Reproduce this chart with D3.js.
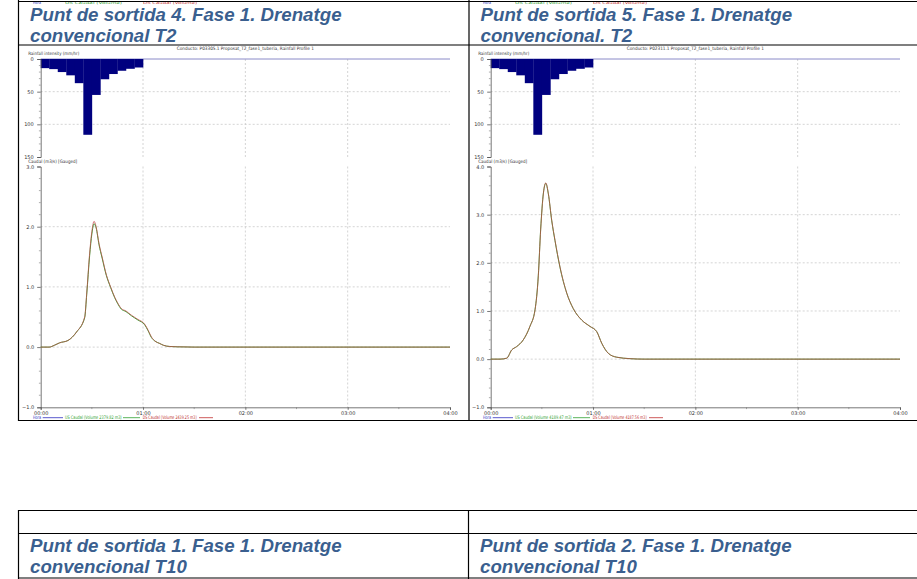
<!DOCTYPE html>
<html><head><meta charset="utf-8">
<script src="https://cdn.jsdelivr.net/npm/d3@7"></script>
<style>body{margin:0;background:#fff}svg{display:block}</style>
</head><body>
<svg id="c" width="917" height="579"></svg>
<script>
// ---- data ----
const rainMinutes = [0,5,10,15,20,25,30,35,40,45,50,55];
const rainIntensity = [14,15.5,20,25,37,116,55,31,23,18,15,13];
const rainTicks = [0,50,100,150];
const timeTicks = [0,60,120,180,240];
const timeTickLabels = ["00:00","01:00","02:00","03:00","04:00"];

const leftTimes = [0,5,8,11,16,21,25.8,27,28.7,30,31.3,32.5,34.2,36,38.5,41,43.4,45,47.3,50,53.2,57,61,63,64.9,67,69.8,72,75.7,80,90,240];
const leftDS    = [0,0,0.03,0.07,0.11,0.25,0.5,0.9,1.56,1.92,2.09,2.0,1.72,1.5,1.2,1.0,0.83,0.74,0.64,0.6,0.53,0.46,0.38,0.28,0.17,0.1,0.06,0.03,0.01,0.005,0,0];
const leftUS    = [0,0,0.03,0.07,0.11,0.25,0.49,0.88,1.52,1.88,2.05,1.98,1.70,1.48,1.19,0.99,0.82,0.73,0.63,0.59,0.52,0.45,0.37,0.27,0.16,0.1,0.06,0.03,0.01,0.005,0,0];
const leftFlowTicks = [-1,0,1,2,3];

const rightTimes = [0,5.5,9.4,12.3,15.2,19.1,23,26,27.9,29.3,30.9,32.3,33.8,35.8,37.7,40.6,44.6,48.4,53.4,58.2,62.2,65.1,69,73.9,81.7,90,240];
const rightDS    = [0,0,0.02,0.19,0.26,0.4,0.68,1.02,1.71,2.68,3.44,3.66,3.44,2.88,2.47,1.92,1.37,1.05,0.81,0.68,0.57,0.33,0.12,0.04,0.01,0,0];
const rightUS    = [0,0,0.02,0.19,0.26,0.4,0.68,1.03,1.73,2.70,3.45,3.65,3.43,2.87,2.46,1.91,1.37,1.05,0.81,0.68,0.57,0.33,0.12,0.04,0.01,0,0];
const rightFlowTicks = [-1,0,1,2,3,4];

const charts = [
  {title:["Punt de sortida 4. Fase 1. Drenatge","convencional T2"],
   conducto:"Conducto:  P03305.1 Proposat_T2_fase1_tuberia, Rainfall Profile 1",
   times:leftTimes, us:leftUS, ds:leftDS, ticks:leftFlowTicks,
   usLabel:"US Caudal (Volume 2379.82 m3)", dsLabel:"DS Caudal (Volume 2439.25 m3)", x0:40.7},
  {title:["Punt de sortida 5. Fase 1. Drenatge","convencional. T2"],
   conducto:"Conducto:  P02311.1 Proposat_T2_fase1_tuberia, Rainfall Profile 1",
   times:rightTimes, us:rightUS, ds:rightDS, ticks:rightFlowTicks,
   usLabel:"US Caudal (Volume 4189.47 m3)", dsLabel:"DS Caudal (Volume 4187.56 m3)", x0:490.7}
];
const lowerTitles = [["Punt de sortida 1. Fase 1. Drenatge","convencional T10"],["Punt de sortida 2. Fase 1. Drenatge","convencional T10"]];

// ---- drawing ----
const svg = d3.select("#c");
svg.append("rect").attr("width",917).attr("height",579).attr("fill","#fff");
const titleColor = "#3a5f8f";
const tiny = "'DejaVu Sans', sans-serif";
const titleSize = 18.7;

function fitText(g, x, y, txt, w, size, color, anchor){
  return g.append("text").attr("x",x).attr("y",y).text(txt)
    .attr("font-family",tiny).attr("font-size",size).attr("fill",color||"#222")
    .attr("text-anchor",anchor||"start")
    .attr("textLength",w).attr("lengthAdjust","spacingAndGlyphs");
}

// top remnants of previous page's legend
[18,468].forEach(ox=>{
  fitText(svg, ox+15, 3.6, "Hora", 8, 3.4, "#3030c0");
  fitText(svg, ox+47, 3.6, "US Caudal (Volume)", 57, 3.4, "#30a030");
  fitText(svg, ox+125, 3.6, "DS Caudal (Volume)", 54, 3.4, "#c03030");
});

charts.forEach((c,i)=>{
  const cellX = i===0 ? 18.5 : 469;
  c.title.forEach((t,k)=>{
    svg.append("text").attr("x",cellX+11.5).attr("y",20.5+k*21).text(t)
      .attr("font-family","'Liberation Sans', Arial, sans-serif").attr("font-weight","bold")
      .attr("font-style","italic").attr("font-size",titleSize).attr("fill",titleColor);
  });
  const g = svg.append("g");
  const x = d3.scaleLinear().domain([0,240]).range([c.x0, c.x0+409.3]);
  const yR = d3.scaleLinear().domain([0,150]).range([59,157]);
  const fmin = d3.min(c.ticks), fmax = d3.max(c.ticks);
  const yF = d3.scaleLinear().domain([fmin,fmax]).range([407.3,166.5]);

  fitText(g, (x(0)+x(240))/2, 50, c.conducto, 137, 4.6, "#333", "middle");
  fitText(g, x(0)-12.5, 55, "Rainfall intensity (mm/hr)", 51, 4.6, "#333");
  fitText(g, x(0)-12.5, 163, "Caudal (m3/s) [Gauged]", 49, 4.6, "#333");

  const grid = "#c9c9c9";
  [60,120,180].forEach(t=>{
    g.append("line").attr("x1",x(t)).attr("x2",x(t)).attr("y1",yR(0)).attr("y2",yR(150))
      .attr("stroke",grid).attr("stroke-width",0.8).attr("stroke-dasharray","2,2");
    g.append("line").attr("x1",x(t)).attr("x2",x(t)).attr("y1",yF(fmax)).attr("y2",yF(fmin))
      .attr("stroke",grid).attr("stroke-width",0.8).attr("stroke-dasharray","2,2");
  });
  [50,100].forEach(v=>g.append("line").attr("x1",x(0)).attr("x2",x(240)).attr("y1",yR(v)).attr("y2",yR(v))
      .attr("stroke",grid).attr("stroke-width",0.8).attr("stroke-dasharray","2,2"));
  c.ticks.filter(v=>v>fmin && v<fmax).forEach(v=>g.append("line").attr("x1",x(0)).attr("x2",x(240)).attr("y1",yF(v)).attr("y2",yF(v))
      .attr("stroke",grid).attr("stroke-width",0.8).attr("stroke-dasharray","2,2"));

  g.append("line").attr("x1",x(0)).attr("x2",x(240)).attr("y1",yR(0)).attr("y2",yR(0))
    .attr("stroke","#8a8ac8").attr("stroke-width",1);
  g.selectAll("rect.rain").data(rainMinutes).enter().append("rect")
    .attr("x",(d)=>x(d)).attr("width",(d)=>x(d+5)-x(d)+0.3)
    .attr("y",yR(0)).attr("height",(d,j)=>yR(rainIntensity[j])-yR(0))
    .attr("fill","#00007f");

  const ax = g.append("g").attr("font-family",tiny);
  const yAxisR = d3.axisLeft(yR).tickValues(rainTicks).tickSize(3.5).tickFormat(d3.format("d"));
  const aR = ax.append("g").attr("transform",`translate(${x(0)},0)`).call(yAxisR);
  const yAxisF = d3.axisLeft(yF).tickValues(c.ticks).tickSize(3.5).tickFormat(d3.format(".1f"));
  const aF = ax.append("g").attr("transform",`translate(${x(0)},0)`).call(yAxisF);
  const xAxis = d3.axisBottom(x).tickValues(timeTicks).tickSize(2.5).tickFormat((d,j)=>timeTickLabels[j]);
  const aX = ax.append("g").attr("transform",`translate(0,${yF(fmin)})`).call(xAxis);
  [aR,aF,aX].forEach(a=>{
    a.selectAll("path").attr("stroke","#555").attr("stroke-width",0.8);
    a.selectAll("line").attr("stroke","#555").attr("stroke-width",0.8);
    a.selectAll("text").attr("font-size",5).attr("fill","#333").attr("font-family",tiny);
  });
  aR.selectAll("text").attr("dx",-0.5);
  aX.selectAll("text").attr("dy","0.4em");
  d3.range(0,151,10).filter(v=>v%50).forEach(v=>g.append("line").attr("x1",x(0)-1.8).attr("x2",x(0))
    .attr("y1",yR(v)).attr("y2",yR(v)).attr("stroke","#777").attr("stroke-width",0.6));
  d3.range(fmin,fmax+0.001,0.2).filter(v=>Math.abs(v-Math.round(v))>0.01).forEach(v=>g.append("line").attr("x1",x(0)-1.8).attr("x2",x(0))
    .attr("y1",yF(v)).attr("y2",yF(v)).attr("stroke","#777").attr("stroke-width",0.6));
  [30,90,150,210].forEach(t=>g.append("line").attr("x1",x(t)).attr("x2",x(t))
    .attr("y1",yF(fmin)).attr("y2",yF(fmin)+1.8).attr("stroke","#777").attr("stroke-width",0.6));

  const line = d3.line().x(d=>x(d[0])).y(d=>yF(d[1])).curve(d3.curveMonotoneX);
  g.append("path").datum(c.times.map((t,j)=>[t,c.us[j]])).attr("d",line)
    .attr("fill","none").attr("stroke","#3aa53a").attr("stroke-width",1);
  g.append("path").datum(c.times.map((t,j)=>[t,c.ds[j]])).attr("d",line)
    .attr("fill","none").attr("stroke","#c24848").attr("stroke-width",0.9).attr("stroke-opacity",0.8);

  const ly = 419.3;
  fitText(g, x(0)-7.7, ly, "Hora", 8, 4.8, "#3030c0");
  g.append("line").attr("x1",x(0)+2).attr("x2",x(0)+22.3).attr("y1",ly-1.6).attr("y2",ly-1.6).attr("stroke","#3030c0").attr("stroke-width",0.8);
  fitText(g, x(0)+24.3, ly, c.usLabel, 56.7, 4.8, "#30a030");
  g.append("line").attr("x1",x(0)+82.3).attr("x2",x(0)+99.3).attr("y1",ly-1.6).attr("y2",ly-1.6).attr("stroke","#30a030").attr("stroke-width",0.8);
  fitText(g, x(0)+102, ly, c.dsLabel, 54, 4.8, "#c03030");
  g.append("line").attr("x1",x(0)+158.3).attr("x2",x(0)+172.3).attr("y1",ly-1.6).attr("y2",ly-1.6).attr("stroke","#c03030").attr("stroke-width",0.8);
});

const bl = svg.append("g").attr("stroke","#000").attr("stroke-width",1.2);
[1.5,45,420.5].forEach(y=>bl.append("line").attr("x1",18).attr("x2",917).attr("y1",y).attr("y2",y));
[18.5,469].forEach(xx=>bl.append("line").attr("x1",xx).attr("x2",xx).attr("y1",0).attr("y2",421));
[510.5,533.5,578].forEach(y=>bl.append("line").attr("x1",18).attr("x2",917).attr("y1",y).attr("y2",y));
[18.5,468.5].forEach(xx=>bl.append("line").attr("x1",xx).attr("x2",xx).attr("y1",510).attr("y2",579));
lowerTitles.forEach((tt,i)=>{
  tt.forEach((t,k)=>svg.append("text").attr("x",(i===0?30:480)).attr("y",552+k*21).text(t)
    .attr("font-family","'Liberation Sans', Arial, sans-serif").attr("font-weight","bold")
    .attr("font-style","italic").attr("font-size",titleSize).attr("fill",titleColor));
});
</script>
</body></html>
